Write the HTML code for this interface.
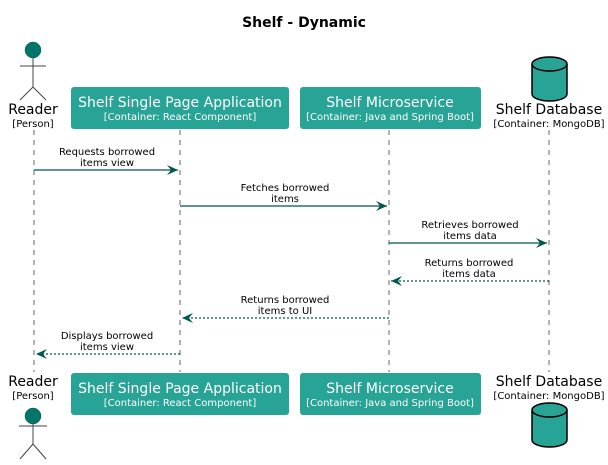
<!DOCTYPE html>
<html><head><meta charset="utf-8"><style>
html,body{margin:0;padding:0;background:#fff}
svg{display:block;font-family:"DejaVu Sans","Liberation Sans",sans-serif}
</style></head><body>
<svg width="608" height="465" viewBox="0 0 608 465" xmlns="http://www.w3.org/2000/svg">
<defs>
<marker id="a" markerWidth="12" markerHeight="10" refX="11" refY="5" orient="auto" markerUnits="userSpaceOnUse">
<path d="M0,0 L11,5 L0,10 L4,5 Z" fill="#02584c"/>
</marker>
</defs>
<text x="304" y="27" text-anchor="middle" font-size="14" font-weight="bold">Shelf - Dynamic</text>
<g stroke="#666" stroke-width="1" stroke-dasharray="5,5">
<line x1="34" y1="130" x2="34" y2="372"/>
<line x1="180" y1="130" x2="180" y2="372"/>
<line x1="389" y1="130" x2="389" y2="372"/>
<line x1="549" y1="130" x2="549" y2="372"/>
</g>
<g stroke="#444" stroke-width="1" fill="none">
<line x1="33" y1="58" x2="33" y2="87"/><line x1="20" y1="66" x2="46" y2="66"/>
<line x1="33" y1="87" x2="20" y2="100"/><line x1="33" y1="87" x2="46" y2="100"/>
</g>
<circle cx="33" cy="50" r="8" fill="#00756a" stroke="#02584c" stroke-width="0.5"/>
<text x="33" y="114" text-anchor="middle" font-size="14">Reader</text>
<text x="33" y="127" text-anchor="middle" font-size="10">[Person]</text>
<rect x="71" y="87" width="218" height="42" rx="3" fill="#27a496"/>
<text x="180" y="107" text-anchor="middle" font-size="14" fill="#fff">Shelf Single Page Application</text>
<text x="180" y="120" text-anchor="middle" font-size="10" fill="#fff">[Container: React Component]</text>
<rect x="300" y="87" width="181" height="42" rx="3" fill="#27a496"/>
<text x="390" y="107" text-anchor="middle" font-size="14" fill="#fff">Shelf Microservice</text>
<text x="390" y="120" text-anchor="middle" font-size="10" fill="#fff">[Container: Java and Spring Boot]</text>
<path d="M532,64 L532,94 A17.5,7 0 0 0 567,94 L567,64" fill="#27a496" stroke="#000" stroke-width="1.5"/>
<ellipse cx="549.5" cy="64" rx="17.5" ry="7" fill="#27a496" stroke="#000" stroke-width="1.5"/>
<text x="549" y="114" text-anchor="middle" font-size="14">Shelf Database</text>
<text x="549" y="127" text-anchor="middle" font-size="10">[Container: MongoDB]</text>
<g stroke="#02584c" stroke-width="1.2">
<line x1="34" y1="170" x2="178" y2="170" marker-end="url(#a)"/>
<line x1="180" y1="206" x2="387" y2="206" marker-end="url(#a)"/>
<line x1="389" y1="243" x2="547" y2="243" marker-end="url(#a)"/>
<line x1="549" y1="281" x2="391" y2="281" stroke-dasharray="2,2" marker-end="url(#a)"/>
<line x1="389" y1="318" x2="182" y2="318" stroke-dasharray="2,2" marker-end="url(#a)"/>
<line x1="180" y1="354" x2="36" y2="354" stroke-dasharray="2,2" marker-end="url(#a)"/>
</g>
<g font-size="10" text-anchor="middle">
<text x="107" y="155">Requests borrowed</text><text x="107" y="166">items view</text>
<text x="285" y="191">Fetches borrowed</text><text x="285" y="202">items</text>
<text x="470" y="228">Retrieves borrowed</text><text x="470" y="239">items data</text>
<text x="469" y="266">Returns borrowed</text><text x="469" y="277">items data</text>
<text x="285" y="303">Returns borrowed</text><text x="285" y="314">items to UI</text>
<text x="107" y="339">Displays borrowed</text><text x="107" y="350">items view</text>
</g>
<text x="33" y="386" text-anchor="middle" font-size="14">Reader</text>
<text x="33" y="399" text-anchor="middle" font-size="10">[Person]</text>
<g stroke="#444" stroke-width="1" fill="none">
<line x1="33" y1="424" x2="33" y2="444"/><line x1="19" y1="426" x2="47" y2="426"/>
<line x1="33" y1="444" x2="20" y2="459"/><line x1="33" y1="444" x2="46" y2="459"/>
</g>
<circle cx="33" cy="416" r="8" fill="#00756a" stroke="#02584c" stroke-width="0.5"/>
<rect x="71" y="373" width="218" height="42" rx="3" fill="#27a496"/>
<text x="180" y="393" text-anchor="middle" font-size="14" fill="#fff">Shelf Single Page Application</text>
<text x="180" y="406" text-anchor="middle" font-size="10" fill="#fff">[Container: React Component]</text>
<rect x="300" y="373" width="181" height="42" rx="3" fill="#27a496"/>
<text x="390" y="393" text-anchor="middle" font-size="14" fill="#fff">Shelf Microservice</text>
<text x="390" y="406" text-anchor="middle" font-size="10" fill="#fff">[Container: Java and Spring Boot]</text>
<text x="549" y="386" text-anchor="middle" font-size="14">Shelf Database</text>
<text x="549" y="399" text-anchor="middle" font-size="10">[Container: MongoDB]</text>
<path d="M532,410 L532,440 A17.5,7 0 0 0 567,440 L567,410" fill="#27a496" stroke="#000" stroke-width="1.5"/>
<ellipse cx="549.5" cy="410" rx="17.5" ry="7" fill="#27a496" stroke="#000" stroke-width="1.5"/>
</svg>
</body></html>
